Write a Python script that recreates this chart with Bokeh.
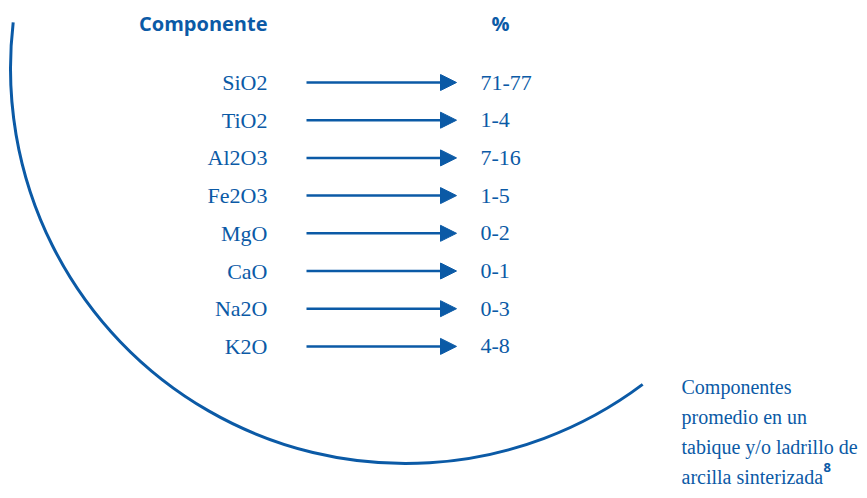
from bokeh.plotting import figure
from bokeh.models import Range1d, Arrow, NormalHead, ColumnDataSource
from bokeh.core.properties import value
from bokeh.embed import file_html
from bokeh.resources import INLINE
import numpy as np

components = ["SiO2", "TiO2", "Al2O3", "Fe2O3", "MgO", "CaO", "Na2O", "K2O"]
percents = ["71-77", "1-4", "7-16", "1-5", "0-2", "0-1", "0-3", "4-8"]
header_left = "Componente"
header_right = "%"
caption_lines = ["Componentes", "promedio en un", "tabique y/o ladrillo de", "arcilla sinterizada"]
footnote = "8"

BLUE = "#0b5aa6"
W, H = 859, 490

p = figure(width=W, height=H, output_backend="svg", toolbar_location=None,
           x_range=Range1d(0, W), y_range=Range1d(-H, 0),
           min_border=0)
p.axis.visible = False
p.grid.visible = False
p.outline_line_color = None
p.background_fill_color = "white"

# big arc
p.arc(x=[405], y=[-68], radius=395, radius_units="screen",
      start_angle=np.deg2rad(173.3), end_angle=np.deg2rad(306.9),
      direction="anticlock", line_color=BLUE, line_width=3)

n = len(components)
row_y = [-(82 + i * 37.7) for i in range(n)]

src = ColumnDataSource(dict(comp=components, pct=percents, y=row_y,
                            x0=[306] * n, x1=[456] * n, xl=[267] * n, xr=[480] * n))

p.text(x="xl", y="y", text="comp", source=src, text_align="right",
       text_baseline="middle", text_color=BLUE,
       text_font=value("Liberation Serif"), text_font_size="22px")
p.text(x="xr", y="y", text="pct", source=src, text_align="left",
       text_baseline="middle", text_color=BLUE,
       text_font=value("Liberation Serif"), text_font_size="22px")

p.add_layout(Arrow(x_start="x0", y_start="y", x_end="x1", y_end="y", source=src,
                   line_color=BLUE, line_width=2.5,
                   end=NormalHead(size=16, fill_color=BLUE, line_color=BLUE, line_width=1)))

# headers
p.text(x=[267], y=[-23], text=[header_left], text_align="right", text_baseline="middle",
       text_color=BLUE, text_font=value("Open Sans"), text_font_style="bold",
       text_font_size="20px")
p.text(x=[491], y=[-23], text=[header_right], text_align="left", text_baseline="middle",
       text_color=BLUE, text_font=value("Open Sans"), text_font_style="bold",
       text_font_size="20px")

# caption
cap_y = [-(386 + i * 30.0) for i in range(len(caption_lines))]
p.text(x=[681] * len(caption_lines), y=cap_y, text=caption_lines, text_align="left",
       text_baseline="middle", text_color=BLUE,
       text_font=value("Liberation Serif"), text_font_size="20px")
p.text(x=[823], y=[cap_y[-1] + 9], text=[footnote], text_align="left", text_baseline="middle",
       text_color=BLUE, text_font=value("Open Sans"), text_font_style="bold",
       text_font_size="13px")

open("out.html", "w").write(file_html(p, INLINE))
